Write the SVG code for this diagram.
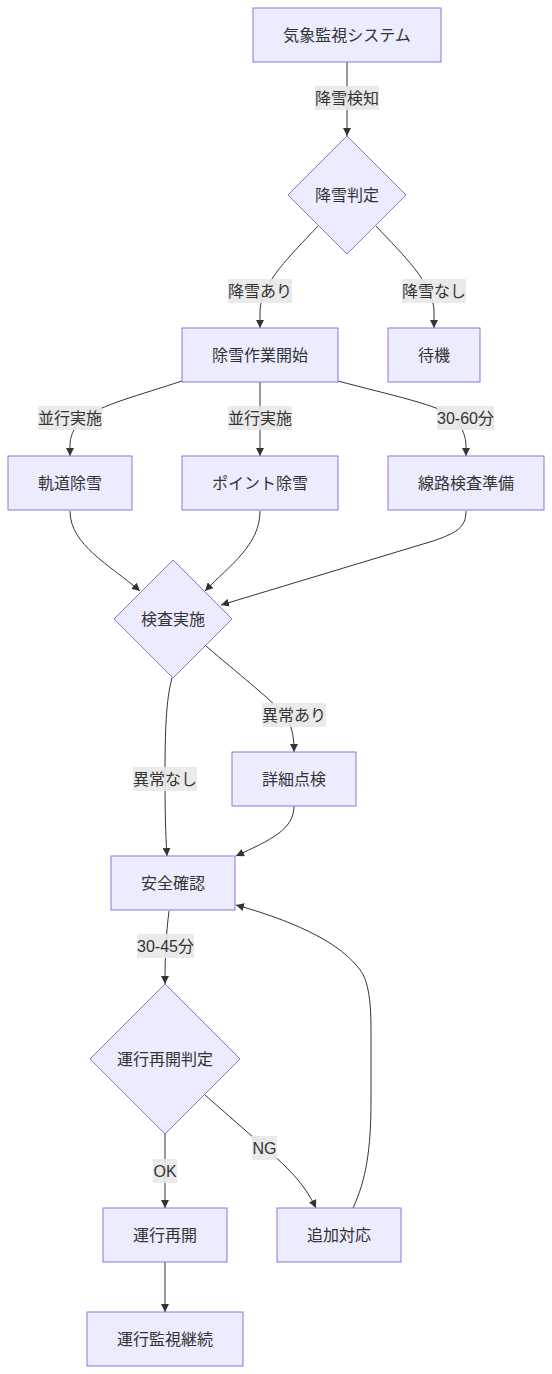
<svg xmlns="http://www.w3.org/2000/svg" width="552" height="1374" viewBox="0 0 552 1374">
<style>
.node rect,.node polygon{fill:#ECECFF;stroke:#9370DB;stroke-width:1px}
.node text{font-family:"Liberation Sans","Noto Sans CJK JP",sans-serif;font-size:16px;fill:#333;text-anchor:middle;dominant-baseline:central}
.edge{fill:none;stroke:#333;stroke-width:1px;marker-end:url(#arrow)}
.lbl rect{fill:#e8e8e8;fill-opacity:0.9;stroke:none}
.lbl text{font-family:"Liberation Sans","Noto Sans CJK JP",sans-serif;font-size:16px;fill:#333;text-anchor:middle;dominant-baseline:central}
</style>
<defs>
<marker id="arrow" viewBox="0 0 10 10" refX="10" refY="5" markerUnits="userSpaceOnUse" markerWidth="8" markerHeight="8" orient="auto">
<path d="M0,0 L10,5 L0,10 z" fill="#333"/>
</marker>
</defs>
<rect width="552" height="1374" fill="#ffffff"/>
<g id="connectors">
<path class="edge" d="M347,62 L347,136"/>
<path class="edge" d="M318,226 C290,256 262,282 260,310 L260,328"/>
<path class="edge" d="M376,226 C404,256 432,282 434,310 L434,328"/>
<path class="edge" d="M182,381 C140,395 100,405 85,418 C72,428 70,438 70,446 L70,456"/>
<path class="edge" d="M260,382 L260,456"/>
<path class="edge" d="M338,381 C390,395 440,405 455,418 C463,428 466,438 466,446 L466,456"/>
<path class="edge" d="M70,511 C70,545 110,565 140,591"/>
<path class="edge" d="M260,511 C260,545 230,565 205,591"/>
<path class="edge" d="M466,511 C466,528 456,533 433,541 L221,605"/>
<path class="edge" d="M172,678 C166,700 165,730 165,779 C165,820 166,840 167,856"/>
<path class="edge" d="M206,646 C240,675 265,695 280,710 C292,722 294,735 294,752"/>
<path class="edge" d="M294,806 C294,830 270,840 236,856"/>
<path class="edge" d="M169,911 C166,935 165,955 165,984"/>
<path class="edge" d="M165,1133 L165,1208"/>
<path class="edge" d="M205,1095 L270,1152 C290,1170 305,1185 316,1208"/>
<path class="edge" d="M165,1262 L165,1312"/>
<path class="edge" d="M353,1208 C366,1180 371,1150 371,1100 L371,1030 C371,990 366,975 356,965 C335,940 290,920 236,905"/>
<g class="lbl"><rect x="315" y="86" width="64" height="24"/><text x="347" y="98">降雪検知</text></g>
<g class="lbl"><rect x="228" y="279" width="64" height="24"/><text x="260" y="291">降雪あり</text></g>
<g class="lbl"><rect x="402" y="279" width="64" height="24"/><text x="434" y="291">降雪なし</text></g>
<g class="lbl"><rect x="38" y="406" width="64" height="24"/><text x="70" y="418">並行実施</text></g>
<g class="lbl"><rect x="228" y="406" width="64" height="24"/><text x="260" y="418">並行実施</text></g>
<g class="lbl"><rect x="437" y="406" width="57" height="24"/><text x="465.5" y="418">30-60分</text></g>
<g class="lbl"><rect x="262" y="703" width="64" height="24"/><text x="294" y="715">異常あり</text></g>
<g class="lbl"><rect x="133" y="767" width="64" height="24"/><text x="165" y="779">異常なし</text></g>
<g class="lbl"><rect x="137" y="934" width="57" height="24"/><text x="165.5" y="946">30-45分</text></g>
<g class="lbl"><rect x="153" y="1159" width="24" height="24"/><text x="165" y="1171">OK</text></g>
<g class="lbl"><rect x="252" y="1136" width="25" height="24"/><text x="264.5" y="1148">NG</text></g>
</g>
<g id="n1" class="node"><rect x="253" y="8" width="188" height="54"/><text x="347" y="35">気象監視システム</text></g>
<g id="n2" class="node"><polygon points="347,136 406,195 347,254 288,195"/><text x="347" y="195">降雪判定</text></g>
<g id="n3" class="node"><rect x="182" y="328" width="156" height="54"/><text x="260" y="355">除雪作業開始</text></g>
<g id="n4" class="node"><rect x="388" y="328" width="92" height="54"/><text x="434" y="355">待機</text></g>
<g id="n5" class="node"><rect x="8" y="456" width="124" height="54"/><text x="70" y="483">軌道除雪</text></g>
<g id="n6" class="node"><rect x="182" y="456" width="156" height="54"/><text x="260" y="483">ポイント除雪</text></g>
<g id="n7" class="node"><rect x="388" y="456" width="156" height="54"/><text x="466" y="483">線路検査準備</text></g>
<g id="n8" class="node"><polygon points="173,560 232,619 173,678 114,619"/><text x="173" y="619">検査実施</text></g>
<g id="n9" class="node"><rect x="232" y="752" width="124" height="54"/><text x="294" y="779">詳細点検</text></g>
<g id="n10" class="node"><rect x="111" y="856" width="124" height="54"/><text x="173" y="883">安全確認</text></g>
<g id="n11" class="node"><polygon points="165,984 240,1059 165,1134 90,1059"/><text x="165" y="1059">運行再開判定</text></g>
<g id="n12" class="node"><rect x="103" y="1208" width="124" height="54"/><text x="165" y="1235">運行再開</text></g>
<g id="n13" class="node"><rect x="277" y="1208" width="124" height="54"/><text x="339" y="1235">追加対応</text></g>
<g id="n14" class="node"><rect x="87" y="1312" width="156" height="54"/><text x="165" y="1339">運行監視継続</text></g>
</svg>
